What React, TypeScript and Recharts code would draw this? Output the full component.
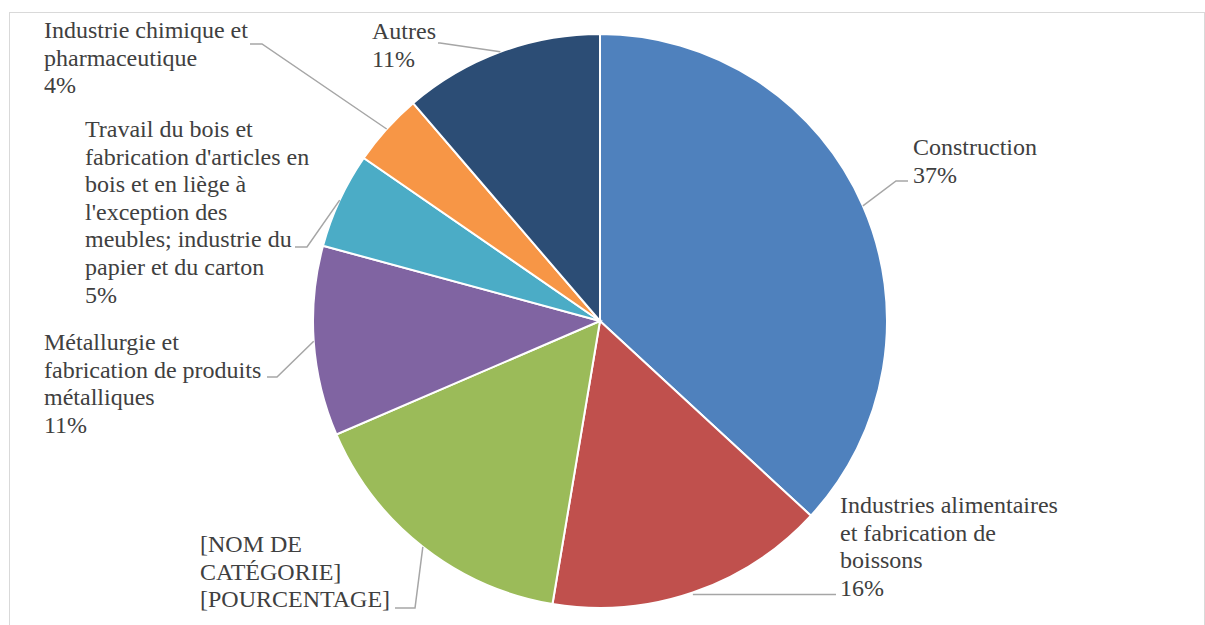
import { Cell, Pie, PieChart } from "recharts";

const categories = [
  "Construction",
  "Industries alimentaires et fabrication de boissons",
  "[NOM DE CATÉGORIE]",
  "Métallurgie et fabrication de produits métalliques",
  "Travail du bois et fabrication d'articles en bois et en liège à l'exception des meubles; industrie du papier et du carton",
  "Industrie chimique et pharmaceutique",
  "Autres",
];
const shares = [36.9, 15.8, 15.9, 10.7, 5.4, 4.1, 11.3];
const colors = ["#4f81bd", "#c0504d", "#9bbb59", "#8064a2", "#4bacc6", "#f79646", "#2c4d75"];

// line breaks of the data labels, as in the original
const labelLines = [
  ["Construction"],
  ["Industries alimentaires", "et fabrication de", "boissons"],
  ["[NOM DE", "CATÉGORIE]", "[POURCENTAGE]"],
  ["Métallurgie et", "fabrication de produits", "métalliques"],
  ["Travail du bois et", "fabrication d'articles en", "bois et en liège à", "l'exception des", "meubles; industrie du", "papier et du carton"],
  ["Industrie chimique et", "pharmaceutique"],
  ["Autres"],
];
const showPercent = [true, true, false, true, true, true, true];

const data = categories.map((name, i) => ({ name, value: shares[i] }));

// label placement relative to pie center: elbow, end of leader, text origin (first baseline)
const layout = [
  { elbow: [296, -140], end: [308, -140], text: [313, -166] },
  { elbow: null, end: [236, 0], text: [240, 192] },
  { elbow: [-185, 287], end: [-205, 287], text: [-400, 231] },
  { elbow: [-323, 56], end: [-333, 56], text: [-556, 29] },
  { elbow: [-293, -74], end: [-305, -74], text: [-515, -184] },
  { elbow: [-338, -277], end: [-350, -277], text: [-556, -283] },
  { elbow: [-160, -278], end: [-162, -278], text: [-228, -282] },
];

const RAD = Math.PI / 180;
const LINE_H = 27.6;
const FONT = "Liberation Serif";

function renderLabel(props: any) {
  const { cx, cy, midAngle, outerRadius, percent, index } = props;
  const ax = cx + outerRadius * Math.cos(-midAngle * RAD);
  const ay = cy + outerRadius * Math.sin(-midAngle * RAD);
  const l = layout[index];
  let points: string;
  if (l.elbow) {
    points = `${ax},${ay} ${cx + l.elbow[0]},${cy + l.elbow[1]} ${cx + l.end[0]},${cy + l.end[1]}`;
  } else {
    points = `${ax},${ay + 2} ${cx + l.end[0]},${ay + 2}`;
  }
  const lines = [...labelLines[index]];
  if (showPercent[index]) lines.push(`${Math.round(percent * 100)}%`);
  const tx = cx + l.text[0];
  const ty = cy + l.text[1];
  return (
    <g key={`lbl-${index}`}>
      <polyline points={points} fill="none" stroke="#a6a6a6" strokeWidth={1.5} />
      <text x={tx} y={ty} fill="#404040" textAnchor="start" fontSize={24} fontFamily={FONT}>
        {lines.map((s, k) => (
          <tspan key={k} x={tx} y={ty + k * LINE_H}>
            {s}
          </tspan>
        ))}
      </text>
    </g>
  );
}

export default function App() {
  return (
    <div style={{ position: "absolute", left: 0, top: 0, width: 1205, height: 625, overflow: "hidden", background: "#fff" }}>
      <div style={{ position: "absolute", left: 9, top: 12, width: 1194, height: 700, border: "1px solid #d9d9d9" }} />
      <div style={{ position: "absolute", left: 0, top: 0 }}>
        <PieChart width={1205} height={625} margin={{ top: 0, right: 0, bottom: 0, left: 0 }}>
          <Pie
            data={data}
            dataKey="value"
            nameKey="name"
            cx={600}
            cy={321}
            outerRadius={287}
            startAngle={90}
            endAngle={-270}
            stroke="#ffffff"
            strokeWidth={2}
            labelLine={false}
            label={renderLabel}
            isAnimationActive={false}
          >
            {data.map((d, i) => (
              <Cell key={d.name} fill={colors[i]} />
            ))}
          </Pie>
        </PieChart>
      </div>
    </div>
  );
}
